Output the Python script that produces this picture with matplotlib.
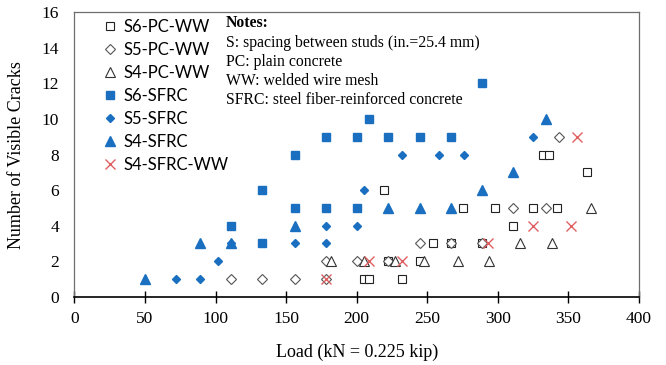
import matplotlib
matplotlib.use("Agg")
import matplotlib.pyplot as plt

# load (kN) and number of visible cracks for each specimen series
s6_pc_x = [205, 209, 222, 232, 219, 245, 254, 267, 275, 289, 298, 311, 325, 342, 332, 336, 363]
s6_pc_y = [1, 1, 2, 1, 6, 2, 3, 3, 5, 3, 5, 4, 5, 5, 8, 8, 7]

s5_pc_x = [111, 133, 156, 178, 178, 200, 222, 245, 267, 289, 311, 334, 343]
s5_pc_y = [1, 1, 1, 1, 2, 2, 2, 3, 3, 3, 5, 5, 9]

s4_pc_x = [182, 205, 227, 248, 272, 294, 316, 338, 366]
s4_pc_y = [2, 2, 2, 2, 2, 2, 3, 3, 5]

s6_sfrc_x = [111, 133, 133, 156, 156, 178, 178, 200, 200, 209, 222, 245, 267, 289]
s6_sfrc_y = [4, 3, 6, 5, 8, 5, 9, 5, 9, 10, 9, 9, 9, 12]

s5_sfrc_x = [72, 89, 102, 111, 133, 156, 178, 178, 200, 205, 232, 258, 276, 325]
s5_sfrc_y = [1, 1, 2, 3, 3, 3, 3, 4, 4, 6, 8, 8, 8, 9]

s4_sfrc_x = [50, 89, 111, 156, 222, 245, 267, 289, 311, 334]
s4_sfrc_y = [1, 3, 3, 4, 5, 5, 5, 6, 7, 10]

s4_ww_x = [178, 209, 232, 293, 325, 352, 356]
s4_ww_y = [1, 2, 2, 3, 4, 4, 9]

notes = ["S: spacing between studs (in.=25.4 mm)",
         "PC: plain concrete",
         "WW: welded wire mesh",
         "SFRC: steel fiber-reinforced concrete"]

blue = "#1a6fc0"
serif = "Liberation Serif"

fig = plt.figure(figsize=(6.66, 3.65), dpi=100)
ax = fig.add_axes([0.1116, 0.187, 0.848, 0.779])

ax.plot(s6_pc_x, s6_pc_y, ls="none", marker="s", ms=5.5, mfc="white", mec="#222222", mew=0.8, label="S6-PC-WW")
ax.plot(s5_pc_x, s5_pc_y, ls="none", marker="D", ms=4.8, mfc="white", mec="#555555", mew=0.8, label="S5-PC-WW")
ax.plot(s4_pc_x, s4_pc_y, ls="none", marker="^", ms=6.5, mfc="white", mec="#333333", mew=0.8, label="S4-PC-WW")
ax.plot(s6_sfrc_x, s6_sfrc_y, ls="none", marker="s", ms=5.5, color=blue, label="S6-SFRC")
ax.plot(s5_sfrc_x, s5_sfrc_y, ls="none", marker="D", ms=4.5, color=blue, label="S5-SFRC")
ax.plot(s4_sfrc_x, s4_sfrc_y, ls="none", marker="^", ms=6.5, color=blue, label="S4-SFRC")
ax.plot(s4_ww_x, s4_ww_y, ls="none", marker="x", ms=7, mew=1.0, color="#e06060", label="S4-SFRC-WW")

ax.set_xlim(0, 400)
ax.set_ylim(0, 16)
ax.set_xticks(range(0, 401, 50))
ax.set_yticks(range(0, 17, 2))

for side in ["top", "right", "left"]:
    ax.spines[side].set_color("#6e6e6e")
    ax.spines[side].set_linewidth(0.9)
ax.spines["bottom"].set_color("black")
ax.spines["bottom"].set_linewidth(1.2)

ax.tick_params(axis="x", direction="inout", length=8, width=1.0, pad=6)
ax.tick_params(axis="y", length=0, pad=11)
for lab in ax.get_xticklabels() + ax.get_yticklabels():
    lab.set_fontfamily(serif)
    lab.set_fontsize(12.5)

ax.set_xlabel("Load (kN = 0.225 kip)", fontfamily=serif, fontsize=13, labelpad=12)
ax.set_ylabel("Number of Visible Cracks", fontfamily=serif, fontsize=13, labelpad=12)

leg = ax.legend(loc="upper left", bbox_to_anchor=(0.052, 0.978), frameon=False,
                borderpad=0, borderaxespad=0, handlelength=0.8, handletextpad=0.4,
                labelspacing=0.42, numpoints=1,
                prop={"family": "Lato", "size": 12})

ax.text(0.2686, 0.962, "Notes:", transform=ax.transAxes, fontfamily=serif,
        fontsize=11.3, fontweight="bold", va="center", ha="left")
note_y = [0.892, 0.825, 0.758, 0.692]
for yy, line in zip(note_y, notes):
    ax.text(0.2686, yy, line, transform=ax.transAxes, fontfamily=serif,
            fontsize=11.3, va="center", ha="left")

fig.savefig("out.png", dpi=100)
